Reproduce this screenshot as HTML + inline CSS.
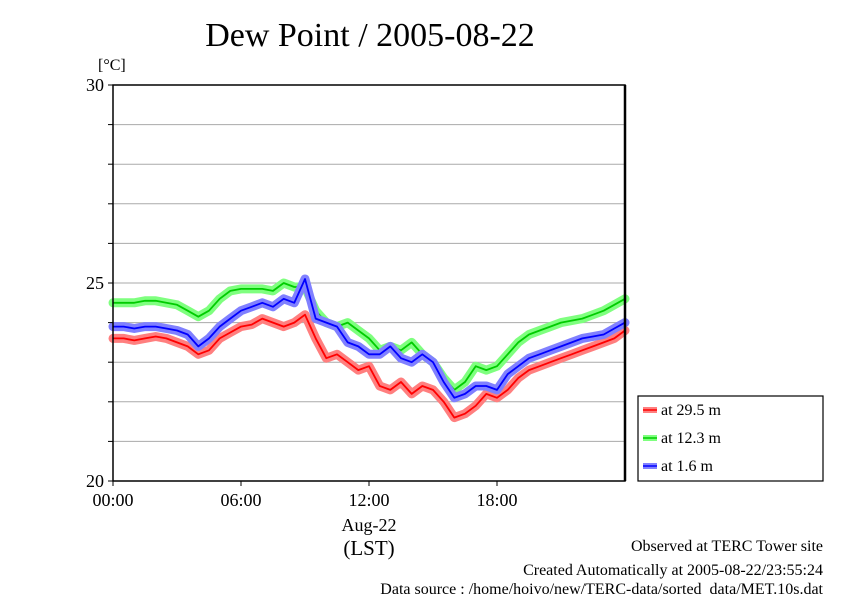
<!DOCTYPE html>
<html><head><meta charset="utf-8"><style>
body{margin:0;background:#fff}
svg{display:block;font-family:"Liberation Serif",serif}
</style></head><body>
<svg width="842" height="595" viewBox="0 0 842 595">
<text x="370" y="46" font-size="34" text-anchor="middle">Dew Point / 2005-08-22</text>
<text x="98" y="70" font-size="16">[°C]</text>
<g id="grid"></g>
<g id="series"></g>
<rect x="113" y="85" width="512" height="396" fill="none" stroke="#000" stroke-width="1.5"/>
<line x1="625" y1="85" x2="625" y2="481" stroke="#000" stroke-width="2.5"/>
<g id="axes" font-size="18"></g>
<text x="369" y="531" font-size="18" text-anchor="middle">Aug-22</text>
<text x="369" y="555" font-size="21" text-anchor="middle">(LST)</text>
<g id="legend">
<rect x="638" y="396" width="185" height="85" fill="#fff" stroke="#000" stroke-width="1.2"/>
</g>
<g font-size="16" text-anchor="end">
<text x="823" y="551">Observed at TERC Tower site</text>
<text x="823" y="575">Created Automatically at 2005-08-22/23:55:24</text>
<text x="823" y="597" dy="-3">Data source : /home/hoivo/new/TERC-data/sorted_data/MET.10s.dat</text>
</g>
</svg>
<script>
const hours=[0,0.5,1,1.5,2,2.5,3,3.5,4,4.5,5,5.5,6,6.5,7,7.5,8,8.5,9,9.5,10,10.5,11,11.5,12,12.5,13,13.5,14,14.5,15,15.5,16,16.5,17,17.5,18,18.5,19,19.5,20,20.5,21,21.5,22,22.5,23,23.5,24];
const red29=[23.6,23.6,23.55,23.6,23.65,23.6,23.5,23.4,23.2,23.3,23.6,23.75,23.9,23.95,24.1,24.0,23.9,24.0,24.2,23.6,23.1,23.2,23.0,22.8,22.9,22.4,22.3,22.5,22.2,22.4,22.3,22.0,21.6,21.7,21.9,22.2,22.1,22.3,22.6,22.8,22.9,23.0,23.1,23.2,23.3,23.4,23.5,23.6,23.8];
const green12=[24.5,24.5,24.5,24.55,24.55,24.5,24.45,24.3,24.15,24.3,24.6,24.8,24.85,24.85,24.85,24.8,25.0,24.9,24.9,24.3,24.0,23.9,24.0,23.8,23.6,23.3,23.4,23.3,23.5,23.2,23.0,22.6,22.3,22.5,22.9,22.8,22.9,23.2,23.5,23.7,23.8,23.9,24.0,24.05,24.1,24.2,24.3,24.45,24.6];
const blue16=[23.9,23.9,23.85,23.9,23.9,23.85,23.8,23.7,23.4,23.6,23.9,24.1,24.3,24.4,24.5,24.4,24.6,24.5,25.1,24.1,24.0,23.9,23.5,23.4,23.2,23.2,23.4,23.1,23.0,23.2,23.0,22.5,22.1,22.2,22.4,22.4,22.3,22.7,22.9,23.1,23.2,23.3,23.4,23.5,23.6,23.65,23.7,23.85,24.0];
const yTicks=[20,21,22,23,24,25,26,27,28,29,30];
const yLabels=[20,25,30];
const xTicks=[0,6,12,18];
const xLabels=["00:00","06:00","12:00","18:00"];
const X=h=>113+h*512/24, Y=v=>481-(v-20)*39.6;
const NS="http://www.w3.org/2000/svg";
function mk(t,a,p){const e=document.createElementNS(NS,t);for(const k in a)e.setAttribute(k,a[k]);p.appendChild(e);return e;}
const grid=document.getElementById('grid'),axes=document.getElementById('axes'),ser=document.getElementById('series'),leg=document.getElementById('legend');
yTicks.forEach(v=>{
 const l=mk('line',{x1:113,x2:625,y1:Y(v),y2:Y(v),stroke:'#aaa','stroke-width':1},grid);
 
 
 const t=mk('line',{x1:108,x2:113,y1:Y(v),y2:Y(v),stroke:'#000'},axes);
 
 
});
yLabels.forEach(v=>{
 const t=mk('text',{x:104,y:Y(v)+6,'text-anchor':'end'},axes);t.textContent=v;
 
 
});
xTicks.forEach((h,i)=>{
 const t=mk('line',{x1:X(h),x2:X(h),y1:481,y2:486,stroke:'#000'},axes);
 
 
 const lb=mk('text',{x:X(h),y:506,'text-anchor':'middle'},axes);lb.textContent=xLabels[i];
 
 
});
const series=[[red29,'#ff7f7f','#f00','at 29.5 m','series-29-5m'],[green12,'#7fff7f','#0c0','at 12.3 m','series-12-3m'],[blue16,'#8080ff','#00f','at 1.6 m','series-1-6m']];
series.forEach(([vals,lc,dc,name,dn],k)=>{
 const pts=hours.map((h,i)=>X(h).toFixed(1)+','+Y(vals[i]).toFixed(1)).join(' ');
 const band=mk('polyline',{points:pts,fill:'none',stroke:lc,'stroke-width':9,'stroke-linejoin':'round','stroke-linecap':'round'},ser);
 
 
 const line=mk('polyline',{points:pts,fill:'none',stroke:dc,'stroke-width':1.8,'stroke-linejoin':'round'},ser);
 
 
 const ly=410+k*28;
 const g=mk('g',{},leg);
 
 
 mk('line',{x1:643,x2:657,y1:ly,y2:ly,stroke:lc,'stroke-width':6},g);
 mk('line',{x1:643,x2:657,y1:ly,y2:ly,stroke:dc,'stroke-width':1.5},g);
 const t=mk('text',{x:661,y:ly+5,'font-size':16},g);t.textContent=name;
});
</script>
</body></html>
